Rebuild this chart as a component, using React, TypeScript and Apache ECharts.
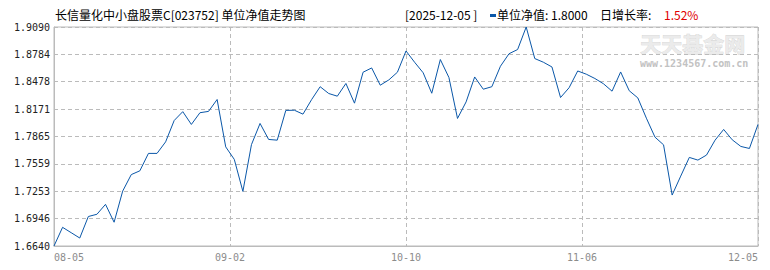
import React, { useEffect, useRef } from "react";
import * as echarts from "echarts";

// ---- data ----
const titleText = "长信量化中小盘股票C[023752] 单位净值走势图";
const headerDate = "[2025-12-05 ]";
const headerNav = "单位净值: 1.8000";
const headerRateLabel = "日增长率:";
const headerRate = "1.52%";

const xTickLabels = ["08-05", "09-02", "10-10", "11-06", "12-05"];
const yTickLabels = ["1.6640", "1.6946", "1.7253", "1.7559", "1.7865", "1.8171", "1.8478", "1.8784", "1.9090"];

const navValues = [
  1.664, 1.6849, 1.6789, 1.6729, 1.697, 1.6995, 1.7106, 1.6906, 1.7254, 1.7439,
  1.7481, 1.7676, 1.7676, 1.7805, 1.8044, 1.8143, 1.8, 1.8131, 1.8146, 1.8279,
  1.7749, 1.7609, 1.7251, 1.7774, 1.8011, 1.7832, 1.7824, 1.8157, 1.8159, 1.8115,
  1.8277, 1.8422, 1.8346, 1.8316, 1.8458, 1.8238, 1.8584, 1.8632, 1.8439, 1.8498,
  1.8584, 1.8822, 1.8696, 1.8578, 1.8349, 1.8726, 1.8525, 1.8067, 1.8252, 1.8531,
  1.8394, 1.8422, 1.8651, 1.8791, 1.8838, 1.909, 1.8737, 1.8696, 1.8643, 1.8301,
  1.8411, 1.8598, 1.8562, 1.8514, 1.8455, 1.8372, 1.8587, 1.8377, 1.8297, 1.807,
  1.7858, 1.7772, 1.721, 1.7422, 1.7631, 1.7601, 1.7657, 1.7824, 1.7944, 1.7828,
  1.7754, 1.7731, 1.8,
];

const yMin = parseFloat(yTickLabels[0]);
const yMax = parseFloat(yTickLabels[yTickLabels.length - 1]);
const yInterval = (yMax - yMin) / (yTickLabels.length - 1);
const xMax = navValues.length - 1;
const xInterval = xMax / (xTickLabels.length - 1);

const CJK = "'Noto Sans CJK SC', 'Noto Sans', sans-serif";
const MONO = "'DejaVu Sans Mono', 'Liberation Mono', monospace";

export default function App() {
  const ref = useRef<HTMLDivElement>(null);

  useEffect(() => {
    if (!ref.current) return;
    const chart = echarts.init(ref.current, undefined, { renderer: "svg" });
    chart.setOption({
      animation: false,
      backgroundColor: "#ffffff",
      grid: {
        left: 54,
        right: 12,
        top: 27,
        bottom: 24,
        show: true,
        borderColor: "#bbbbbb",
        borderWidth: 1,
        backgroundColor: "transparent",
      },
      xAxis: {
        type: "value",
        min: 0,
        max: xMax,
        interval: xInterval,
        axisLine: { show: true, lineStyle: { color: "#bbbbbb", width: 1 } },
        axisTick: { show: false },
        splitLine: { show: true, lineStyle: { color: "#bbbbbb", type: [4, 3], width: 1 } },
        axisLabel: {
          color: "#8c8c8c",
          fontFamily: MONO,
          fontSize: 10,
          margin: 6,
          showMinLabel: true,
          showMaxLabel: true,
          alignMinLabel: "left",
          alignMaxLabel: "right",
          formatter: (v: number) => xTickLabels[Math.round(v / xInterval)] ?? "",
        },
      },
      yAxis: {
        type: "value",
        min: yMin,
        max: yMax,
        interval: yInterval,
        axisLine: { show: true, lineStyle: { color: "#bbbbbb", width: 1 } },
        axisTick: { show: false },
        splitLine: { show: true, lineStyle: { color: "#bbbbbb", type: [4, 3], width: 1 } },
        axisLabel: {
          color: "#222222",
          fontFamily: MONO,
          fontSize: 10,
          margin: 4,
          showMinLabel: true,
          showMaxLabel: true,
          formatter: (v: number) => yTickLabels[Math.round((v - yMin) / yInterval)] ?? "",
        },
      },
      series: [
        {
          type: "line",
          data: navValues.map((v, i) => [i, v]),
          showSymbol: false,
          symbol: "none",
          lineStyle: { color: "#0a57a8", width: 1 },
          z: 5,
        },
      ],
      graphic: [
        {
          type: "text",
          left: 55,
          top: 8,
          style: { text: titleText, fill: "#000000", font: `12px ${CJK}` },
        },
        {
          type: "text",
          left: 405,
          top: 8,
          style: { text: headerDate, fill: "#000000", font: `12px ${CJK}` },
        },
        {
          type: "rect",
          shape: { x: 490, y: 14, width: 6, height: 3 },
          style: { fill: "#0a57a8" },
        },
        {
          type: "text",
          left: 497,
          top: 8,
          style: { text: headerNav, fill: "#000000", font: `12px ${CJK}` },
        },
        {
          type: "text",
          left: 600,
          top: 8,
          style: { text: headerRateLabel, fill: "#000000", font: `12px ${CJK}` },
        },
        {
          type: "text",
          left: 664,
          top: 8,
          style: { text: headerRate, fill: "#e00000", font: `12px ${CJK}` },
        },
        {
          type: "text",
          left: 640,
          top: 32,
          z: 0,
          style: {
            text: "天天基金网",
            fill: "#ebebeb",
            stroke: "#d2d2d2",
            lineWidth: 0.7,
            font: `bold 21px ${CJK}`,
          },
        },
        {
          type: "text",
          left: 640,
          top: 58,
          z: 0,
          style: {
            text: "www.1234567.com.cn",
            fill: "#c2c2c2",
            font: `bold 10px ${MONO}`,
          },
        },
      ],
    });
    return () => chart.dispose();
  }, []);

  return (
    <div
      ref={ref}
      style={{ position: "fixed", left: 0, top: 0, width: 770, height: 270, background: "#fff" }}
    />
  );
}
